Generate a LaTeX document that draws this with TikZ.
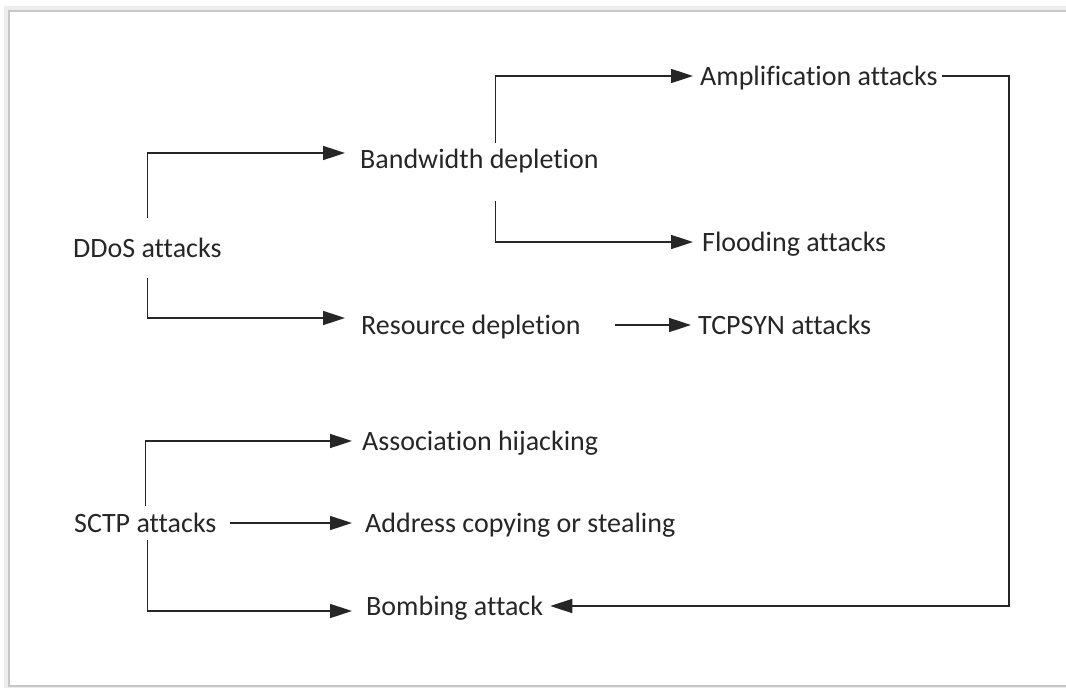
\documentclass[tikz,border=0pt]{standalone}
\usepackage{fontspec}
\setmainfont{Carlito}[Ligatures={NoCommon}]
\usetikzlibrary{arrows.meta}
\begin{document}
\begin{tikzpicture}[x=1pt, y=-1pt,
  lbl/.style={anchor=west, inner xsep=7pt, inner ysep=0pt, text height=18pt, text depth=0pt, text=black!85, font=\fontsize{28}{34}\selectfont},
  arr/.style={-{Triangle[length=22pt, width=14pt]}, line width=1.6pt, draw=black!85}]
\useasboundingbox (0,0) rectangle (1066,688);
\draw[black!7, line width=5pt] (1075,8) -- (6,8) -- (6,689) -- (1075,689);
\draw[black!22, line width=2pt] (1075,11) -- (9,11) -- (9,686) -- (1075,686);

\node[lbl] (ddos) at (66,248) {DDoS attacks};
\node[lbl] (bw) at (353,159) {Bandwidth depletion};
\node[lbl] (res) at (354,325) {Resource depletion};
\node[lbl] (amp) at (693,76) {Amplification attacks};
\node[lbl] (flood) at (695,242) {Flooding attacks};
\node[lbl] (tcp) at (691,325) {TCPSYN attacks};
\node[lbl] (sctp) at (67,523) {SCTP attacks};
\node[lbl] (assoc) at (355,441) {Association hijacking};
\node[lbl] (addr) at (358,523) {Address copying or stealing};
\node[lbl] (bomb) at (359,606) {Bombing attack};
\coordinate (ampturn) at (1009,76);

\draw[arr, shorten <=21pt, shorten >=8pt] (ddos.north) |- ([yshift=6pt]bw.west);
\draw[arr, shorten <=21pt, shorten >=9pt] (ddos.south) |- ([yshift=7pt]res.west);
\draw[arr, shorten <=7pt] ([xshift=16pt]bw.north) |- (amp.west);
\draw[arr, shorten <=33pt, shorten >=2pt] ([xshift=16pt]bw.south) |- (flood.west);
\draw[arr, shorten <=27pt] (res.east) -- (tcp.west);
\draw[arr, shorten <=-3pt] (amp.east) -- (ampturn) |- (bomb.east);
\draw[arr, shorten <=8pt, shorten >=3pt] (sctp.north) |- (assoc.west);
\draw[arr, shorten <=6pt, shorten >=6pt] (sctp.east) -- (addr.west);
\draw[arr, shorten <=8pt, shorten >=7pt] ([xshift=2pt]sctp.south) |- ([yshift=-5pt]bomb.west);
\end{tikzpicture}
\end{document}
